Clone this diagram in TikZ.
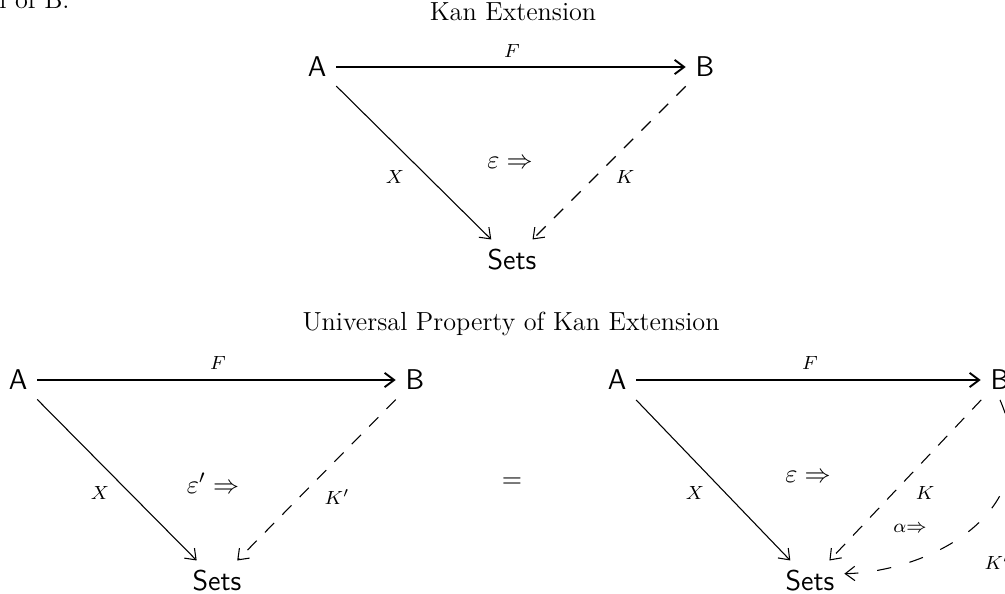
\documentclass[tikz,border=0pt]{standalone}
\usetikzlibrary{arrows.meta}
\begin{document}
\begin{tikzpicture}[x=0.42pt,y=-0.42pt,
  obj/.style={font=\fontsize{12}{14}\sffamily\selectfont, inner sep=4pt},
  ttl/.style={font=\fontsize{11}{13}\selectfont, inner sep=0pt},
  lbl/.style={font=\fontsize{8}{10}\selectfont, inner sep=0pt},
  nat/.style={font=\fontsize{11}{13}\selectfont, inner sep=0pt},
  smallnat/.style={font=\fontsize{8}{10}\selectfont, inner sep=0pt},
  arr/.style={-{Straight Barb[length=4pt,width=6pt]}, line width=0.45pt},
  harr/.style={arr, line width=0.8pt},
  dsh/.style={arr, dash pattern=on 5.5pt off 4.9pt},
  cdsh/.style={arr, dash pattern=on 6pt off 8pt},
]
\useasboundingbox (0,0) rectangle (1005,593);
\clip (0,0) rectangle (1005,593);

% stray text and titles
\node[ttl, anchor=base west] (prev) at (-1,8) {l of B.};
\node[ttl, anchor=base] (t1) at (513,20) {Kan Extension};
\node[ttl, anchor=base] (t2) at (511,330) {Universal Property of Kan Extension};

% top diagram
\node[obj] (A1) at (317,67) {A};
\node[obj] (B1) at (705,67) {B};
\node[obj] (S1) at (512,260) {Sets};
\draw[harr] (A1) -- (B1);
\draw[arr] (A1) -- (S1);
\draw[dsh] (B1) -- (S1);
\node[lbl] (F1) at (512,51) {$F$};
\node[lbl] (X1) at (395,177) {$X$};
\node[lbl] (K1) at (625,177) {$K$};
\node[nat] (e1) at (510,163) {$\varepsilon\Rightarrow$};

% bottom-left diagram
\node[obj] (A2) at (18,380) {A};
\node[obj] (B2) at (415,380) {B};
\node[obj] (S2) at (217,581) {Sets};
\draw[harr] (A2) -- (B2);
\draw[arr] (A2) -- (S2);
\draw[dsh] (B2) -- (S2);
\node[lbl] (F2) at (218,363) {$F$};
\node[lbl] (X2) at (100,493) {$X$};
\node[lbl] (K2) at (337,497) {$K'$};
\node[nat] (e2) at (213,483) {$\varepsilon'\Rightarrow$};

% equals sign
\node[nat] (eq) at (512,483) {$=$};

% bottom-right diagram
\node[obj] (A3) at (617,380) {A};
\node[obj] (B3) at (1000,380) {B};
\node[obj] (S3) at (810,581) {Sets};
\draw[harr] (A3) -- (B3);
\draw[arr] (A3) -- (S3);
\draw[dsh] (B3) -- (S3);
\draw[cdsh] (B3.south) .. controls (1050,515) and (925,572) .. (S3.12);
\node[lbl] (F3) at (810,363) {$F$};
\node[lbl] (X3) at (695,493) {$X$};
\node[lbl] (K3) at (925,493) {$K$};
\node[lbl] (K4) at (997,562) {$K'$};
\node[nat] (e3) at (808,477) {$\varepsilon\Rightarrow$};
\node[smallnat] (a3) at (910,528) {$\alpha{\Rightarrow}$};
\end{tikzpicture}
\end{document}
